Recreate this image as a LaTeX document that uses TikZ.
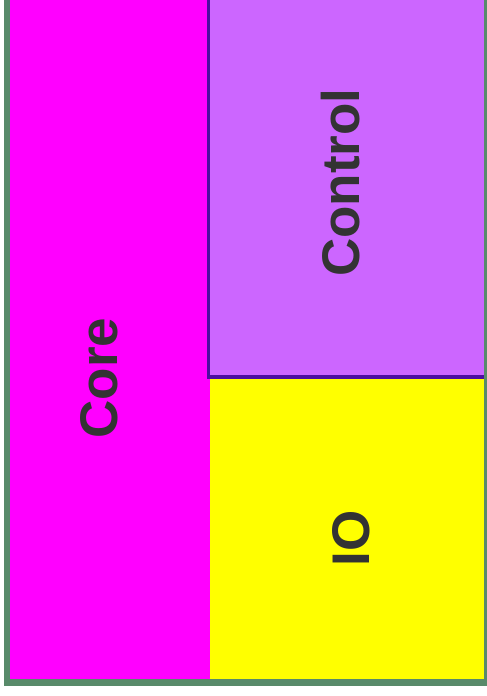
\documentclass[tikz,border=0pt]{standalone}
\usepackage{fontspec}
\setmainfont{Liberation Sans}
\definecolor{framegreen}{RGB}{88,138,106}
\definecolor{coremag}{RGB}{255,0,255}
\definecolor{ctrlpurple}{RGB}{204,102,255}
\definecolor{ctrledge}{RGB}{76,14,160}
\definecolor{ioyellow}{RGB}{255,255,0}
\definecolor{labelgray}{RGB}{51,51,51}
\tikzset{
  blocklabel/.style={rotate=90, anchor=base, inner sep=0pt, text=labelgray,
    font=\fontsize{53}{60}\selectfont\bfseries},
}
\begin{document}
\begin{tikzpicture}[x=1pt,y=1pt]
\useasboundingbox (0,0) rectangle (487,-696);
\fill[white] (0,0) rectangle (487,-696);
% outer frame
\fill[framegreen] (4,0) rectangle (487,-686);
% core
\fill[coremag] (10,0) rectangle (210,-679);
% io
\fill[ioyellow] (210,-379) rectangle (484,-679);
% control
\fill[ctrlpurple] (208.5,0) rectangle (484,-377);
\draw[ctrledge, line width=3.6pt] (208.5,0) -- (208.5,-377) -- (484,-377);
% labels
\node[blocklabel] (core) at (117,-378) {Core};
\node[blocklabel] (control) at (359,-182.5) {Control};
\node[blocklabel] (io) at (369,-538.5) {IO};
\end{tikzpicture}
\end{document}
